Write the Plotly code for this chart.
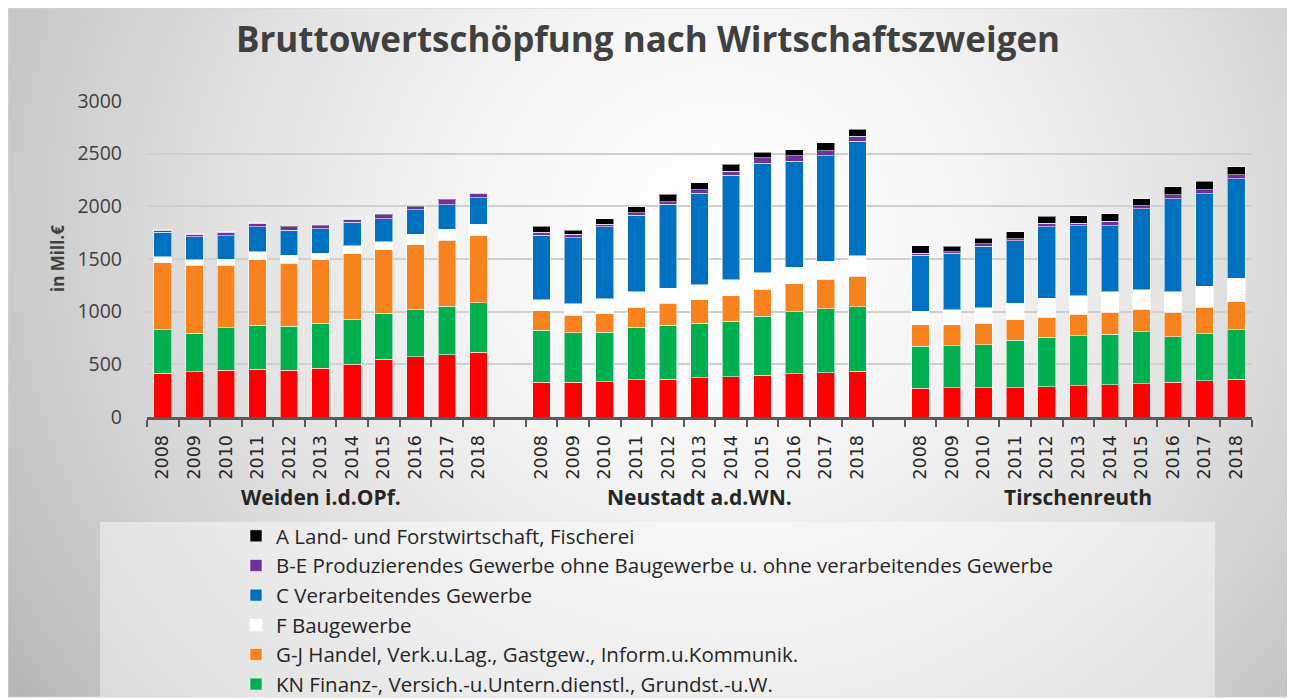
import base64
import struct
import zlib

import numpy as np
import plotly.graph_objects as go

# ---------------- data ----------------
years = [2008, 2009, 2010, 2011, 2012, 2013, 2014, 2015, 2016, 2017, 2018]
regions = ["Weiden i.d.OPf.", "Neustadt a.d.WN.", "Tirschenreuth"]

# values in Mill. EUR, per region (Weiden, Neustadt, Tirschenreuth)
ot_values = [
    [414, 430, 443, 455, 443, 462, 500, 548, 573, 592, 615],
    [328, 328, 334, 354, 357, 373, 382, 395, 411, 420, 436],
    [271, 277, 280, 280, 287, 299, 306, 315, 328, 344, 360],
]
kn_values = [
    [414, 366, 404, 418, 417, 430, 430, 436, 446, 459, 468],
    [497, 471, 469, 496, 513, 519, 526, 560, 586, 606, 612],
    [401, 401, 408, 449, 471, 472, 478, 494, 436, 446, 468],
]
gj_values = [
    [637, 644, 593, 618, 599, 599, 618, 605, 618, 627, 637],
    [185, 166, 178, 191, 210, 220, 245, 258, 267, 280, 290],
    [204, 198, 201, 195, 191, 204, 210, 213, 230, 251, 268],
]
f_values = [
    [57, 51, 57, 79, 79, 66, 76, 74, 96, 106, 111],
    [102, 112, 140, 150, 140, 143, 150, 157, 160, 172, 191],
    [127, 140, 149, 156, 178, 178, 194, 185, 194, 201, 223],
]
c_values = [
    [230, 219, 226, 236, 236, 230, 223, 219, 235, 229, 249],
    [614, 627, 685, 723, 799, 869, 990, 1041, 1003, 1003, 1089],
    [532, 541, 583, 595, 679, 662, 627, 768, 882, 876, 942],
]
be_values = [
    [22, 26, 32, 32, 32, 28, 29, 39, 26, 51, 44],
    [29, 29, 25, 26, 26, 35, 38, 48, 51, 48, 48],
    [19, 13, 22, 19, 32, 26, 42, 32, 38, 41, 39],
]
a_values = [
    [5, 5, 6, 6, 6, 5, 6, 5, 6, 5, 6],
    [57, 41, 51, 57, 70, 64, 70, 54, 57, 76, 67],
    [70, 51, 55, 67, 70, 70, 73, 63, 77, 80, 76],
]

series_names = [
    "O-T Öffentliche und sonstige Dienstleister, Erziehung, Gesundheit",
    "KN Finanz-, Versich.-u.Untern.dienstl., Grundst.-u.W.",
    "G-J Handel, Verk.u.Lag., Gastgew., Inform.u.Kommunik.",
    "F Baugewerbe",
    "C Verarbeitendes Gewerbe",
    "B-E Produzierendes Gewerbe ohne Baugewerbe u. ohne verarbeitendes Gewerbe",
    "A Land- und Forstwirtschaft, Fischerei",
]
series_values = [ot_values, kn_values, gj_values, f_values, c_values, be_values, a_values]
series_colors = ["#FF0000", "#00B050", "#F8821E", "#FFFFFF", "#0070C0", "#7030A0", "#000000"]
show_in_legend = [False, True, True, True, True, True, True]

# ---------------- layout geometry (page pixels; page body has an 8px margin) ----------------
OFF = 8
PAGE_W, PAGE_H = 1295, 700
W, H = PAGE_W - OFF, PAGE_H - OFF
PLOT_L, PLOT_R, PLOT_T, PLOT_B = 147, 1252, 101, 417  # page px
ML = PLOT_L - OFF
MT = PLOT_T - OFF
MR = W - (PLOT_R - OFF)
MB = H - (PLOT_B - OFF)
PW = PLOT_R - PLOT_L
PH = PLOT_B - PLOT_T
GAP = 1  # blank category between regions


def px_to_paper_x(px):
    return (px - PLOT_L) / PW


def px_to_paper_y(py):
    return (PLOT_B - py) / PH


# ---------------- background gradient image ----------------
def gradient_png(w, h):
    xs = np.linspace(6, PAGE_W, w)
    ys = np.linspace(7, 697, h)
    X, Y = np.meshgrid(xs, ys)
    nx = (X - 720) / 690
    ny = (Y - 230) / 650
    d = np.sqrt(nx ** 2 + ny ** 2)
    val = 255 - 50 * np.clip(d, 0, 1.3) ** 1.6
    val = np.clip(val, 0, 255).astype(np.uint8)
    raw = b"".join(b"\x00" + val[r].tobytes() for r in range(h))

    def chunk(t, data):
        return struct.pack(">I", len(data)) + t + data + struct.pack(">I", zlib.crc32(t + data) & 0xFFFFFFFF)

    ihdr = struct.pack(">IIBBBBB", w, h, 8, 0, 0, 0, 0)
    png = b"\x89PNG\r\n\x1a\n" + chunk(b"IHDR", ihdr) + chunk(b"IDAT", zlib.compress(raw, 9)) + chunk(b"IEND", b"")
    return "data:image/png;base64," + base64.b64encode(png).decode()


# ---------------- figure ----------------
fig = go.Figure()

xpos = []
for g in range(len(regions)):
    for i in range(len(years)):
        xpos.append(g * (len(years) + GAP) + i)

n_series = len(series_names)
for k, (name, vals, col, sl) in enumerate(zip(series_names, series_values, series_colors, show_in_legend)):
    flat = [v for reg in vals for v in reg]
    fig.add_trace(
        go.Bar(
            x=xpos,
            y=flat,
            name=name,
            legendgroup=name,
            legendrank=n_series - k,
            showlegend=sl,
            width=0.56,
            marker=dict(color=col, line=dict(color="rgba(255,255,255,0.55)", width=1)),
        )
    )

n_cat = len(regions) * len(years) + (len(regions) - 1) * GAP

fig.update_layout(
    width=W,
    height=H,
    barmode="stack",
    paper_bgcolor="white",
    plot_bgcolor="rgba(0,0,0,0)",
    margin=dict(l=ML, r=MR, t=MT, b=MB, pad=0, autoexpand=False),
    font=dict(family="Open Sans", color="#404040"),
    showlegend=True,
    legend=dict(
        x=px_to_paper_x(236),
        y=px_to_paper_y(516),
        xanchor="left",
        yanchor="top",
        traceorder="grouped",
        tracegroupgap=0,
        bgcolor="rgba(0,0,0,0)",
        font=dict(family="Open Sans", size=20.5, color="#262626"),
    ),
    title=dict(
        text="<b>Bruttowertschöpfung nach Wirtschaftszweigen</b>",
        x=(648 - OFF) / W,
        xref="container",
        xanchor="center",
        y=1 - (40 - OFF) / H,
        yref="container",
        yanchor="middle",
        font=dict(family="Open Sans", size=35, color="#404040"),
    ),
    xaxis=dict(
        range=[-0.5, n_cat - 0.5],
        tickmode="array",
        tickvals=xpos,
        ticktext=[str(y) for _ in regions for y in years],
        tickangle=-90,
        ticks="outside",
        ticklen=8,
        tickcolor="rgba(0,0,0,0)",
        tickfont=dict(family="DejaVu Sans", size=17.5, color="#262626"),
        showgrid=False,
        zeroline=False,
        showline=True,
        linecolor="#595959",
        linewidth=3,
        automargin=False,
        minor=dict(
            tickmode="linear",
            tick0=0.5,
            dtick=1,
            ticks="outside",
            ticklen=7,
            tickwidth=2,
            tickcolor="#595959",
            showgrid=False,
        ),
        fixedrange=True,
    ),
    yaxis=dict(
        range=[0, 3000],
        tickmode="linear",
        tick0=0,
        dtick=500,
        tickfont=dict(family="Open Sans", size=19.5, color="#404040"),
        showgrid=True,
        gridcolor="#cfcfcf",
        gridwidth=1.5,
        zeroline=False,
        showline=False,
        ticks="",
        ticklabelstandoff=24,
        automargin=False,
        fixedrange=True,
    ),
    images=[
        dict(
            source=gradient_png(324, 173),
            xref="paper",
            yref="paper",
            x=px_to_paper_x(6),
            y=px_to_paper_y(7),
            sizex=(PAGE_W - 6) / PW,
            sizey=(697 - 7) / PH,
            sizing="stretch",
            xanchor="left",
            yanchor="top",
            layer="below",
        )
    ],
    shapes=[
        dict(
            type="rect",
            xref="paper",
            yref="paper",
            x0=px_to_paper_x(OFF),
            x1=px_to_paper_x(PAGE_W + 2),
            y0=px_to_paper_y(OFF),
            y1=px_to_paper_y(697),
            line=dict(color="#d4d4d4", width=1),
            fillcolor="rgba(0,0,0,0)",
            layer="below",
        ),
        dict(
            type="rect",
            xref="paper",
            yref="paper",
            x0=px_to_paper_x(100),
            x1=px_to_paper_x(1215),
            y0=px_to_paper_y(522),
            y1=px_to_paper_y(697),
            line=dict(width=0),
            fillcolor="rgba(255,255,255,0.45)",
            layer="below",
        ),
    ],
)

annotations = [
    dict(
        text="<b>in Mill.€</b>",
        x=px_to_paper_x(57),
        y=px_to_paper_y(259),
        xref="paper",
        yref="paper",
        xanchor="center",
        yanchor="middle",
        textangle=-90,
        showarrow=False,
        font=dict(family="Open Sans", size=17, color="#404040"),
    )
]
for g, reg in enumerate(regions):
    center = g * (len(years) + GAP) + (len(years) - 1) / 2
    annotations.append(
        dict(
            text=f"<b>{reg}</b>",
            x=center,
            xref="x",
            xanchor="center",
            y=px_to_paper_y(497),
            yref="paper",
            yanchor="middle",
            showarrow=False,
            font=dict(family="Open Sans", size=21, color="#262626"),
        )
    )
fig.update_layout(annotations=annotations)

fig.write_html("out.html")
